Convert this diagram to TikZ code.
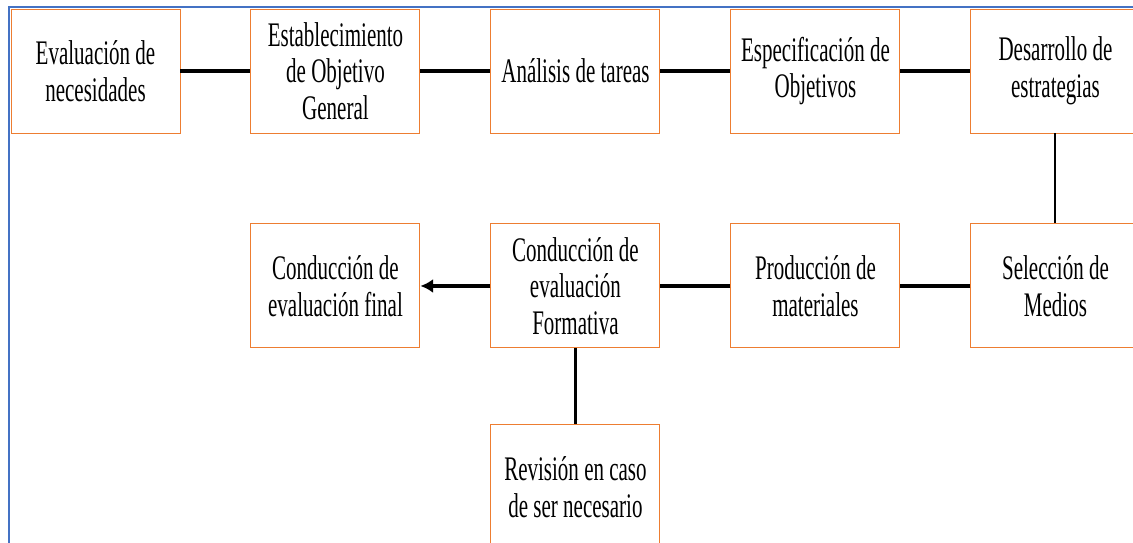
\documentclass[tikz,border=0pt]{standalone}
\usepackage{fontspec}
\newfontfamily\boxfont{Liberation Serif}[FakeStretch=0.61]
\usetikzlibrary{positioning,arrows.meta}
\definecolor{boxorange}{HTML}{ED7D31}
\definecolor{frameblue}{HTML}{4472C4}

\begin{document}
\begin{tikzpicture}[
    block/.style={draw=boxorange, line width=0.7pt, fill=white, rectangle, minimum width=4.225cm, minimum height=3.1cm, inner sep=0pt, align=center, font=\boxfont\fontsize{24.5pt}{26pt}\selectfont},
    link/.style={line width=2.8pt},
    thin link/.style={line width=1.4pt},
    arrow/.style={-{Latex[length=9pt,width=10pt]}, line width=2.8pt},
    node distance=2.25cm and 1.75cm
]
    \useasboundingbox (-2.3875,-11.8) rectangle (25.9375,1.775);
    \clip (-2.3875,-11.8) rectangle (25.9375,1.775);

    % Frame
    \draw[frameblue, line width=1.1pt] (-2.1625,-11.8) -- (-2.1625,1.6) -- (25.9375,1.6);

    % Blocks
    \node[block] (needs) {Evaluación de\\necesidades};
    \node[block, right=of needs] (goal) {Establecimiento\\de Objetivo\\General};
    \node[block, right=of goal] (tasks) {Análisis de tareas};
    \node[block, right=of tasks] (objectives) {Especificación de\\Objetivos};
    \node[block, right=of objectives] (strategies) {Desarrollo de\\estrategias};

    \node[block, below=of strategies] (media) {Selección de\\Medios};
    \node[block, left=of media] (materials) {Producción de\\materiales};
    \node[block, left=of materials] (formative) {Conducción de\\evaluación\\Formativa};
    \node[block, left=of formative] (final) {Conducción de\\evaluación final};
    \node[block, below=1.9cm of formative] (revision) {Revisión en caso\\de ser necesario};

    % Arrows
    \draw[link] (needs) -- (goal);
    \draw[link] (goal) -- (tasks);
    \draw[link] (tasks) -- (objectives);
    \draw[link] (objectives) -- (strategies);
    \draw[thin link] (strategies) -- (media);
    \draw[link] (media) -- (materials);
    \draw[link] (materials) -- (formative);
    \draw[arrow] (formative) -- (final);
    \draw[line width=2pt] (formative) -- (revision);
\end{tikzpicture}
\end{document}
